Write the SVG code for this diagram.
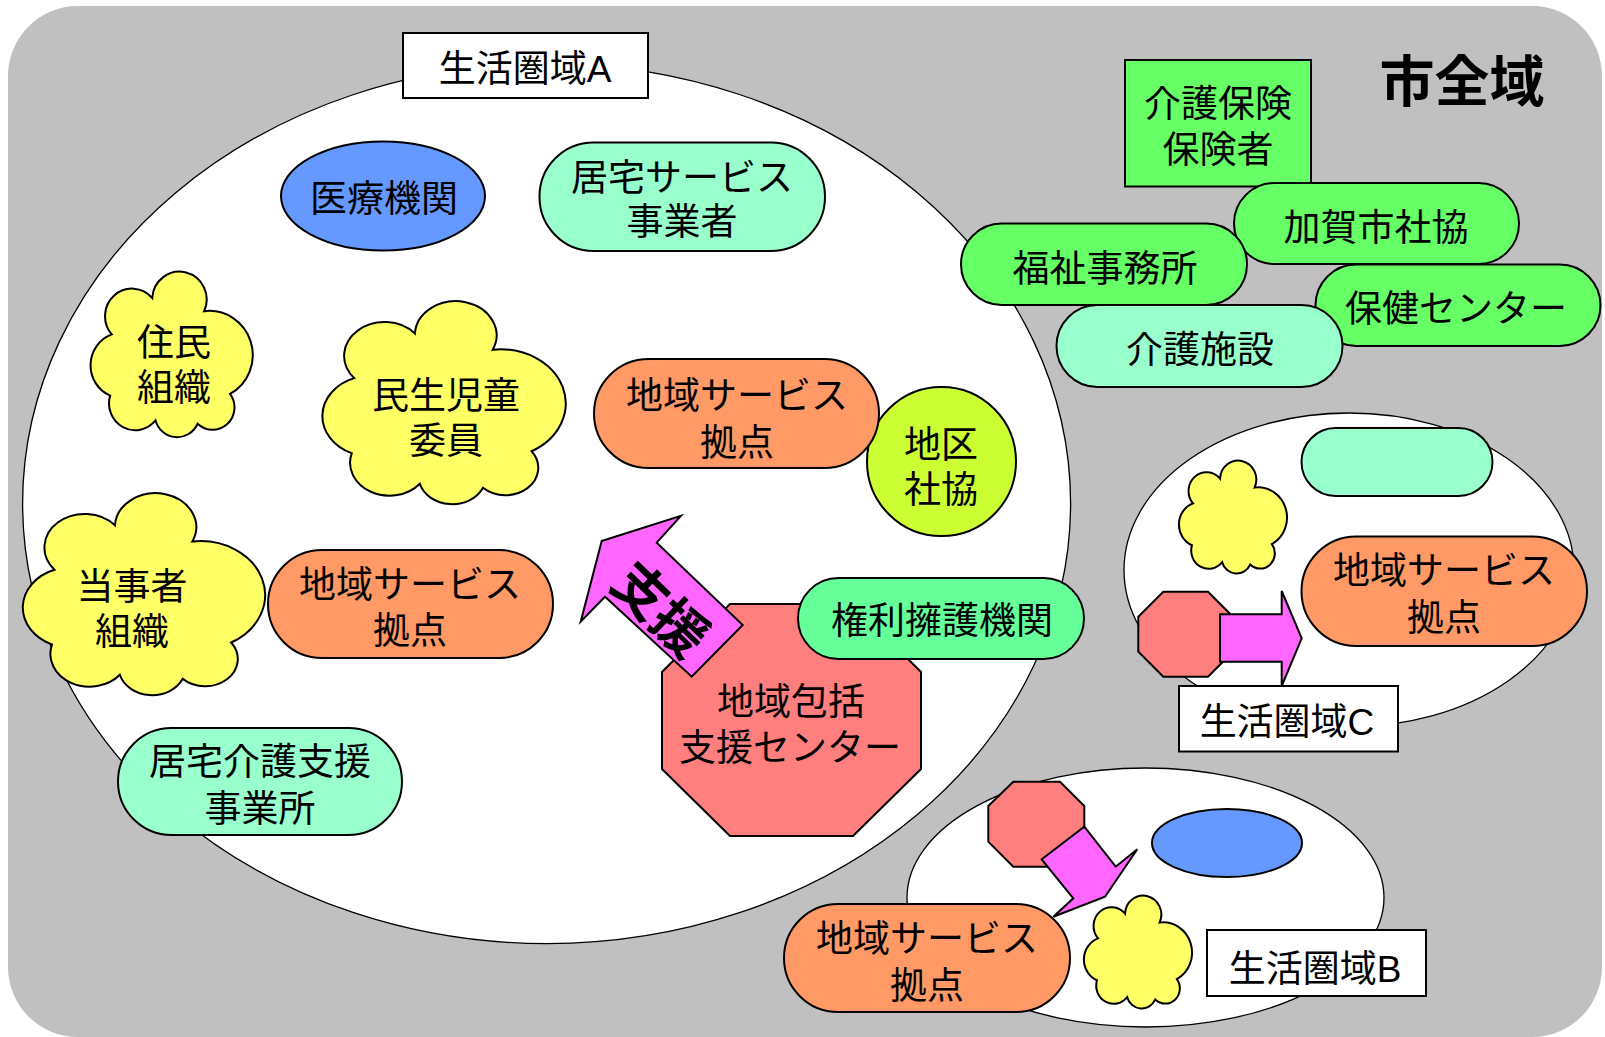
<svg xmlns="http://www.w3.org/2000/svg" xmlns:xlink="http://www.w3.org/1999/xlink" width="1605" height="1037" viewBox="0 0 1605 1037">
<defs>
<style>
.s{stroke:#000;stroke-width:2}
.thin{stroke:#000;stroke-width:1.3;fill:#fff}
.t{font-family:"Liberation Sans","Noto Sans CJK JP","Noto Sans CJK SC",sans-serif;font-size:37px;text-anchor:middle;fill:#000}
.big{font-family:"Liberation Sans","Noto Sans CJK JP","Noto Sans CJK SC",sans-serif;font-size:55px;font-weight:bold;text-anchor:middle;fill:#000}
.lbl{fill:#fff;stroke:#000;stroke-width:2}
.blue{fill:#6699FF}
.mint{fill:#99FFCC}
.orange{fill:#FF9966}
.green{fill:#66FF66}
.oct{fill:#FF7F7F}
.mag{fill:#FF66FF;stroke:#000;stroke-width:2;stroke-linejoin:miter}
</style>
<path id="cloud" d="M13,38 A16.5,16.5 0 1 1 38,16 A16.8,16.8 0 1 1 70,24 A26.7,26.7 0 0 1 86,74 A13.5,13.5 0 0 1 66,92 A13.9,13.9 0 0 1 40,90 A16.2,16.2 0 0 1 12,75 A19.9,19.9 0 0 1 13,38 Z" fill="#FFFF66" stroke="#000" stroke-width="2" vector-effect="non-scaling-stroke"/>
</defs>

<rect id="city-background" x="8" y="6" width="1594" height="1031" rx="70" ry="70" fill="#C0C0C0"/>

<g id="area-A">
<ellipse class="thin" cx="546.6" cy="503.6" rx="524" ry="440"/>
<rect class="lbl" x="403" y="33" width="245" height="65"/>
<text class="t" x="525" y="82">生活圏域A</text>
</g>

<g id="area-C">
<ellipse class="thin" cx="1349" cy="570" rx="225" ry="157"/>
</g>

<g id="area-B">
<ellipse class="thin" cx="1145.5" cy="897.5" rx="238.5" ry="129.5"/>
</g>

<g id="node-iryou">
<ellipse class="blue s" cx="383" cy="196" rx="102" ry="54.5"/>
<text class="t" x="384" y="212">医療機関</text>
</g>

<g id="node-kyotaku-service">
<rect class="mint s" x="539.5" y="142.5" width="285.5" height="108.5" rx="54" ry="54"/>
<text class="t" x="682" y="191">居宅サービス<tspan x="682" dy="44">事業者</tspan></text>
</g>

<g id="node-juumin">
<use xlink:href="#cloud" href="#cloud" transform="translate(90.7,271.5) scale(1.62,1.655)"/>
<text class="t" x="174" y="356">住民<tspan x="174" dy="45">組織</tspan></text>
</g>

<g id="node-minsei">
<use xlink:href="#cloud" href="#cloud" transform="translate(322.6,301) scale(2.43,2.03)"/>
<text class="t" x="446" y="409">民生児童<tspan x="446" dy="45">委員</tspan></text>
</g>

<g id="node-toujisha">
<use xlink:href="#cloud" href="#cloud" transform="translate(23,493) scale(2.42,2.02)"/>
<text class="t" x="132" y="600">当事者<tspan x="132" dy="45">組織</tspan></text>
</g>

<g id="node-chiku-shakyo">
<circle cx="941.5" cy="461.5" r="74.5" fill="#CCFF33" class="s"/>
<text class="t" x="941" y="458">地区<tspan x="941" dy="45">社協</tspan></text>
</g>

<g id="node-service-A1">
<rect class="orange s" x="594" y="359" width="285" height="109" rx="54.5" ry="54.5"/>
<text class="t" x="737" y="409">地域サービス<tspan x="737" dy="47">拠点</tspan></text>
</g>

<g id="node-service-A2">
<rect class="orange s" x="268" y="550" width="285" height="108" rx="54" ry="54"/>
<text class="t" x="410" y="598">地域サービス<tspan x="410" dy="46">拠点</tspan></text>
</g>

<g id="node-kyotaku-kaigo">
<rect class="mint s" x="118" y="728" width="284" height="107" rx="53.5" ry="53.5"/>
<text class="t" x="260" y="775">居宅介護支援<tspan x="260" dy="47">事業所</tspan></text>
</g>

<g id="node-houkatsu">
<polygon class="oct s" points="730,604 853,604 921,672 921,769 853,836 730,836 662,769 662,672"/>
<text class="t" x="791" y="715">地域包括<tspan x="790" dy="46">支援センター</tspan></text>
</g>

<g id="node-kenri">
<rect class="s" fill="#66FF99" x="798" y="578" width="286" height="81" rx="40.5" ry="40.5"/>
<text class="t" x="942" y="634">権利擁護機関</text>
</g>

<g id="node-hokensha">
<rect class="green s" x="1125" y="60" width="186" height="126.5"/>
<text class="t" x="1218" y="117">介護保険<tspan x="1218" dy="46">保険者</tspan></text>
</g>

<g id="node-kaga-shakyo">
<rect class="green s" x="1234" y="183" width="285" height="81" rx="40.5" ry="40.5"/>
<text class="t" x="1376" y="241">加賀市社協</text>
</g>

<g id="node-fukushi">
<rect class="green s" x="961" y="223.5" width="286" height="81.5" rx="40.7" ry="40.7"/>
<text class="t" x="1105" y="282">福祉事務所</text>
</g>

<g id="node-hoken-center">
<rect class="green s" x="1315.5" y="264.5" width="285" height="81.5" rx="40.7" ry="40.7"/>
<text class="t" x="1456" y="322">保健センター</text>
</g>

<g id="node-kaigo-shisetsu">
<rect class="mint s" x="1056.5" y="305" width="286" height="82" rx="41" ry="41"/>
<text class="t" x="1200" y="363">介護施設</text>
</g>

<g id="node-city-title">
<text class="big" x="1462" y="101">市全域</text>
</g>

<g id="node-C-mint">
<rect class="mint s" x="1301.5" y="428" width="191" height="68" rx="34" ry="34"/>
</g>
<g id="node-C-cloud">
<use xlink:href="#cloud" href="#cloud" transform="translate(1179,460.5) scale(1.08,1.13)"/>
</g>
<g id="node-service-C">
<rect class="orange s" x="1301.5" y="536.5" width="285.5" height="109.5" rx="54.7" ry="54.7"/>
<text class="t" x="1444" y="584">地域サービス<tspan x="1444" dy="47">拠点</tspan></text>
</g>
<g id="node-C-oct">
<polygon class="oct s" points="1163.3,591.7 1208,591.7 1231.7,615.5 1231.7,653 1208,676.7 1163.3,676.7 1138.3,651.7 1138.3,616.7"/>
</g>

<g id="node-B-oct">
<polygon class="oct s" points="1013.3,781.7 1060,781.7 1084.3,806 1084.3,843 1060,866.7 1013.3,866.7 988.3,841.7 988.3,806"/>
</g>
<g id="node-B-blue">
<ellipse class="blue s" cx="1227" cy="843" rx="75" ry="34"/>
</g>
<g id="node-B-cloud">
<use xlink:href="#cloud" href="#cloud" transform="translate(1084,895.5) scale(1.08,1.13)"/>
</g>
<g id="node-service-B">
<rect class="orange s" x="784" y="904" width="286" height="108" rx="54" ry="54"/>
<text class="t" x="927" y="952">地域サービス<tspan x="927" dy="47">拠点</tspan></text>
</g>

<g id="connectors">
<polygon class="mag" points="601.7,541 681,515.7 656.7,542.7 742.7,625 691.7,676.7 605,596.7 580.7,621.7"/>
<text transform="translate(661,609) rotate(44)" x="0" y="20" style="font-family:'Liberation Sans','Noto Sans CJK JP','Noto Sans CJK SC',sans-serif;font-size:54px;font-weight:bold;text-anchor:middle;fill:#000">支援</text>
<polygon class="mag" points="1220,614.3 1281.7,614.3 1281.7,591 1301.7,638.3 1281.7,686 1281.7,661.7 1220,661.7"/>
<polygon class="mag" points="1084.3,826.7 1115.7,866.7 1137.3,849.3 1105,896.7 1053.3,916.7 1073.3,898.3 1041.7,859.3"/>
</g>

<g id="label-C">
<rect class="lbl" x="1179" y="686" width="219" height="65.5"/>
<text class="t" x="1287" y="735">生活圏域C</text>
</g>
<g id="label-B">
<rect class="lbl" x="1207" y="930" width="219" height="66"/>
<text class="t" x="1315" y="982">生活圏域B</text>
</g>
</svg>
